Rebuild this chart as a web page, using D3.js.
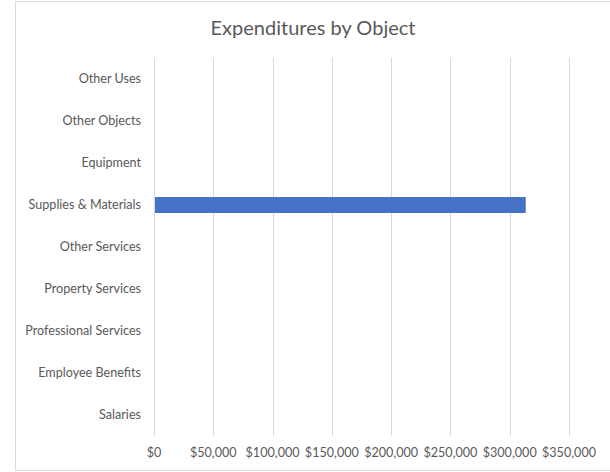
<!DOCTYPE html>
<html>
<head>
<meta charset="utf-8">
<script src="https://cdn.jsdelivr.net/npm/d3@7"></script>
<style>
	body { margin: 0; background: #fff; }
	svg { display: block; font-family: Lato, 'Open Sans', sans-serif; }
	.label { fill: #595959; font-size: 12.6px; }
	.title { fill: #595959; font-size: 20px; }
</style>
</head>
<body>
<div id="chart"></div>
<script>
// categories, top to bottom
const categories = ['Other Uses', 'Other Objects', 'Equipment', 'Supplies & Materials', 'Other Services',
	'Property Services', 'Professional Services', 'Employee Benefits', 'Salaries'];
const values = [0, 0, 0, 313500, 0, 0, 0, 0, 0];
const tickValues = [0, 50000, 100000, 150000, 200000, 250000, 300000, 350000];

const width = 610;
const height = 472;
const margin = {top: 58, right: 41, bottom: 36, left: 154};

const svg = d3.select('#chart').append('svg')
	.attr('width', width)
	.attr('height', height);

// chart border (right edge is cropped off)
svg.append('rect')
	.attr('x', 15.5)
	.attr('y', 1.5)
	.attr('width', 620)
	.attr('height', 469)
	.attr('fill', 'none')
	.attr('stroke', '#d9d9d9');

svg.append('text')
	.attr('class', 'title')
	.attr('x', 313)
	.attr('y', 34.5)
	.attr('text-anchor', 'middle')
	.text('Expenditures by Object');

const x = d3.scaleLinear()
	.domain([0, 350000])
	.range([margin.left, width - margin.right]);

const y = d3.scaleBand()
	.domain(categories)
	.range([margin.top, height - margin.bottom])
	.paddingInner(0.62)
	.paddingOuter(0.31);

// gridlines
svg.append('g')
	.selectAll('line')
	.data(tickValues)
	.enter().append('line')
		.attr('x1', d => Math.round(x(d)) + 0.5)
		.attr('x2', d => Math.round(x(d)) + 0.5)
		.attr('y1', margin.top)
		.attr('y2', height - margin.bottom)
		.attr('stroke', '#d9d9d9');

// bars
svg.append('g')
	.selectAll('rect')
	.data(categories)
	.enter().append('rect')
		.attr('x', x(0) + 1)
		.attr('y', d => y(d))
		.attr('width', (d, i) => Math.max(0, x(values[i]) - x(0) - 1))
		.attr('height', y.bandwidth())
		.attr('fill', '#4472c4');

// category labels
svg.append('g')
	.selectAll('text')
	.data(categories)
	.enter().append('text')
		.attr('class', 'label')
		.attr('x', 141)
		.attr('y', d => y(d) + y.bandwidth() / 2)
		.attr('dy', '0.35em')
		.attr('text-anchor', 'end')
		.text(d => d);

// x tick labels
const fmt = d3.format('$,');
svg.append('g')
	.selectAll('text')
	.data(tickValues)
	.enter().append('text')
		.attr('class', 'label')
		.attr('x', d => x(d))
		.attr('y', 457)
		.attr('text-anchor', 'middle')
		.text(d => fmt(d));
</script>
</body>
</html>
